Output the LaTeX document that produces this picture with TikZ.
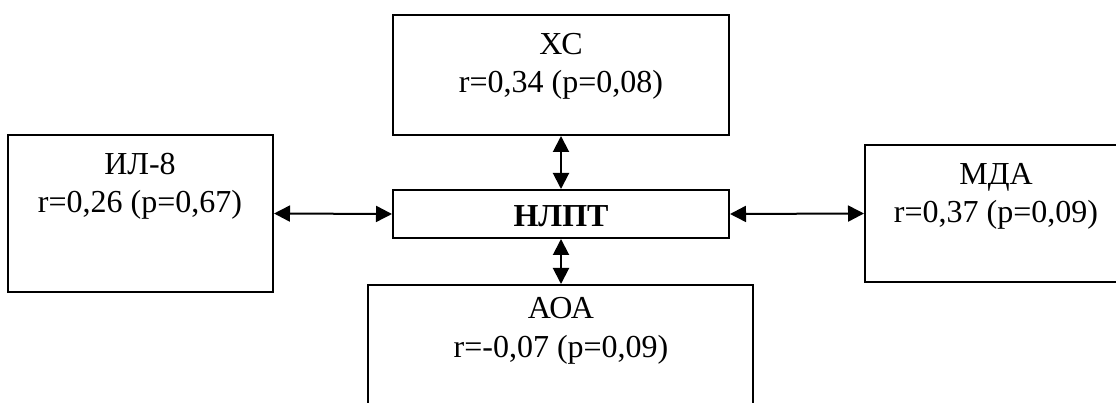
\documentclass[tikz,border=0pt]{standalone}
\usepackage{fontspec}
\setmainfont{Liberation Serif}
\usetikzlibrary{arrows.meta}
\tikzset{
  box/.style={draw=black, line width=2pt, fill=white, inner sep=0pt, rectangle},
  lbl/.style={font=\fontsize{32}{38}\selectfont, inner sep=0pt, anchor=base},
  biarrow/.style={line width=2pt, {Triangle[length=16pt,width=16pt]}-{Triangle[length=16pt,width=16pt]}}
}
\begin{document}
\begin{tikzpicture}[x=1pt,y=-1pt]
\clip (0,0) rectangle (1116,403);
\fill[white] (0,0) rectangle (1116,403);
% boxes
\node[box, minimum width=336pt, minimum height=120pt] (xs) at (561,75) {};
\node[box, minimum width=265pt, minimum height=157pt] (il) at (140.5,213.5) {};
\node[box, minimum width=336pt, minimum height=48pt] (nlpt) at (561,214) {};
\node[box, minimum width=265pt, minimum height=137pt] (mda) at (997.5,213.5) {};
\node[box, minimum width=385pt, minimum height=140pt] (aoa) at (560.5,355) {};
% labels
\node[lbl] (xsT) at (561,55) {ХС};
\node[lbl] (xsV) at (561,93) {r=0,34 (p=0,08)};
\node[lbl] (ilT) at (140,175) {ИЛ-8};
\node[lbl] (ilV) at (140,213) {r=0,26 (p=0,67)};
\node[lbl, font=\fontsize{32}{38}\selectfont\bfseries] (nlptT) at (561,227) {НЛПТ};
\node[lbl] (mdaT) at (996,185) {МДА};
\node[lbl] (mdaV) at (996,223) {r=0,37 (p=0,09)};
\node[lbl] (aoaT) at (561,319) {АОА};
\node[lbl] (aoaV) at (561,357) {r=-0,07 (p=0,09)};
% connectors
\draw[biarrow] (il.east) -- (nlpt.west);
\draw[biarrow] (nlpt.east) -- (mda.west);
\draw[biarrow] (xs.south) -- (nlpt.north);
\draw[biarrow] (nlpt.south) -- (aoa.north -| nlpt.south);
\end{tikzpicture}
\end{document}
